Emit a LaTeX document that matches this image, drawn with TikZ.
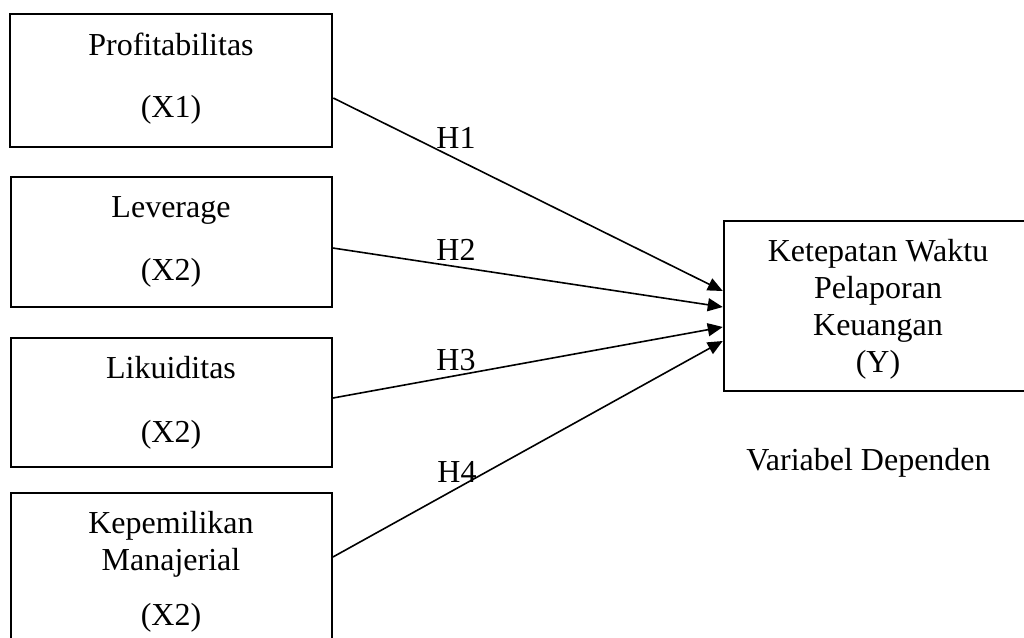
\documentclass[tikz,border=0pt]{standalone}
\usepackage{fontspec}
\setmainfont{Liberation Serif}
\usetikzlibrary{arrows.meta}
\begin{document}
\begin{tikzpicture}[x=1pt,y=-1pt,
  box/.style={draw=black,rectangle,inner sep=0pt,anchor=center},
  txt/.style={font=\fontsize{32}{36}\selectfont,anchor=base,inner sep=0pt},
  conn/.style={line width=1.6pt,-{Triangle[length=15pt,width=13pt]}}]
\clip (0,0) rectangle (1024,637);
\fill[white] (0,0) rectangle (1024,637);
% boxes
\node[box,line width=2.5pt,minimum width=322pt,minimum height=133pt] (b1) at (171,80.5) {};
\node[box,line width=1.6pt,minimum width=321pt,minimum height=130pt] (b2) at (171.5,242) {};
\node[box,line width=2pt,minimum width=321pt,minimum height=129pt] (b3) at (171.5,402.5) {};
\node[box,line width=1.8pt,minimum width=321pt,minimum height=177pt] (b4) at (171.5,581.5) {};
\node[box,line width=2.5pt,minimum width=308pt,minimum height=170pt] (r) at (878,306) {};
% texts
\node[txt] (t1a) at (171,55) {Profitabilitas};
\node[txt] (t1b) at (171,117) {(X1)};
\node[txt] (t2a) at (171,217) {Leverage};
\node[txt] (t2b) at (171,280) {(X2)};
\node[txt] (t3a) at (171,378) {Likuiditas};
\node[txt] (t3b) at (171,442) {(X2)};
\node[txt] (t4a) at (171,533) {Kepemilikan};
\node[txt] (t4b) at (171,570) {Manajerial};
\node[txt] (t4c) at (171,625) {(X2)};
\node[txt] (ra) at (878,261) {Ketepatan Waktu};
\node[txt] (rb) at (878,298) {Pelaporan};
\node[txt] (rc) at (878,335) {Keuangan};
\node[txt] (rd) at (878,372) {(Y)};
\node[txt] (vd) at (868.5,470) {Variabel Dependen};
% connectors
\draw[conn] ([yshift=-17.5pt]b1.east) -- ([yshift=15pt]r.west);
\draw[conn] ([yshift=-6pt]b2.east) -- ([yshift=-1pt]r.west);
\draw[conn] ([yshift=4.5pt]b3.east) -- ([yshift=-21pt]r.west);
\draw[conn] ([yshift=24.5pt]b4.east) -- ([yshift=-35pt]r.west);
% labels
\node[txt] (h1) at (456,148) {H1};
\node[txt] (h2) at (456,260) {H2};
\node[txt] (h3) at (456,370) {H3};
\node[txt] (h4) at (457,482) {H4};
\end{tikzpicture}
\end{document}
